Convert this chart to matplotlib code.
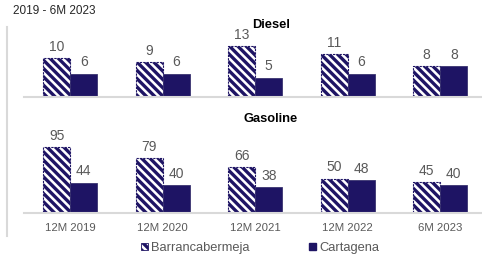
import matplotlib
matplotlib.use("Agg")
import matplotlib.pyplot as plt
from matplotlib.patches import Patch
from matplotlib.lines import Line2D

plt.rcParams['font.family'] = ['Liberation Sans', 'DejaVu Sans']
plt.rcParams['hatch.linewidth'] = 2.4

# data
periods = ['12M 2019', '12M 2020', '12M 2021', '12M 2022', '6M 2023']
diesel_barranca = [10, 9, 13, 11, 8]
diesel_cartagena = [6, 6, 5, 6, 8]
gasoline_barranca = [95, 79, 66, 50, 45]
gasoline_cartagena = [44, 40, 38, 48, 40]

navy = '#1E1464'
grid_grey = '#D9D9D9'
text_grey = '#595959'
stripes = '\\' * 4

W, H = 482, 256
fig = plt.figure(figsize=(W / 100, H / 100), dpi=100)

def px_box(left, top, right, bottom):
    # figure pixels -> fraction [l, b, w, h]
    return [left / W, 1 - bottom / H, (right - left) / W, (bottom - top) / H]

ax_d = fig.add_axes(px_box(24, 30, 482, 97))
ax_g = fig.add_axes(px_box(24, 125, 482, 213))

x = list(range(len(periods)))
bw = 0.292

def draw(ax, barranca, cartagena, ytop):
    xb = [i - bw / 2 for i in x]
    xc = [i + bw / 2 for i in x]
    b1 = ax.bar(xb, barranca, width=bw, facecolor='white', edgecolor=navy,
                hatch=stripes, linewidth=0.8, linestyle=(0, (2, 1)))
    b2 = ax.bar(xc, cartagena, width=bw, color=navy, edgecolor='#3a3470',
                linewidth=0.6)
    for bars in (b1, b2):
        ax.bar_label(bars, padding=3, fontsize=10, color=text_grey)
    ax.set_xlim(-0.5, -0.5 + 458 / 92.5)
    ax.set_ylim(0, ytop)
    for s in ('top', 'right', 'left'):
        ax.spines[s].set_visible(False)
    ax.spines['bottom'].set_color(grid_grey)
    ax.spines['bottom'].set_linewidth(1.5)
    ax.set_yticks([])
    ax.tick_params(axis='x', length=0, pad=7, labelsize=8.2, labelcolor=text_grey)
    ax.patch.set_alpha(0)

draw(ax_d, diesel_barranca, diesel_cartagena, 67 / 3.9)
draw(ax_g, gasoline_barranca, gasoline_cartagena, 88 / 0.69)
ax_d.set_xticks([])
ax_g.set_xticks(x)
ax_g.set_xticklabels(periods)

fig.text(271 / W, 1 - 24.5 / H, 'Diesel', ha='center', va='center',
         fontsize=9.3, fontweight='bold', color='black')
fig.text(271 / W, 1 - 118.5 / H, 'Gasoline', ha='center', va='center',
         fontsize=9.3, fontweight='bold', color='black')
fig.text(13 / W, 1 - 10.5 / H, '2019 - 6M 2023', ha='left', va='center',
         fontsize=8.5, color='#262626')

fig.add_artist(Line2D([7 / W, 7 / W], [1 - 27 / H, 1 - 236 / H],
                      color=grid_grey, linewidth=1.5))

handles = [Patch(facecolor='white', edgecolor=navy, hatch=stripes, linewidth=0.6),
           Patch(facecolor=navy, edgecolor=navy)]
fig.legend(handles, ['Barrancabermeja', 'Cartagena'], loc='center',
           bbox_to_anchor=(260 / W, 1 - 248 / H), ncol=2, frameon=False,
           fontsize=9.3, labelcolor=text_grey, handlelength=0.55,
           handleheight=0.55, handletextpad=0.25, columnspacing=4.6,
           borderpad=0, borderaxespad=0)

fig.savefig('out.png', dpi=100)
